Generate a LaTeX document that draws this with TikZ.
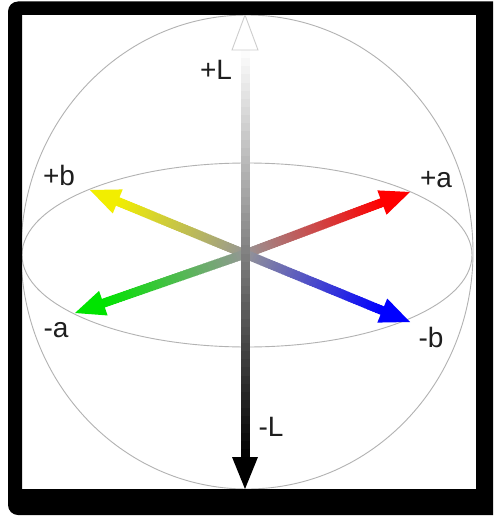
\documentclass[tikz,border=0pt]{standalone}
\usepackage{fontspec}
\setsansfont{Liberation Sans}
\usetikzlibrary{calc}
\definecolor{labFrame}{RGB}{0,0,0}
\definecolor{labSphere}{RGB}{178,178,178}
\definecolor{labMid}{RGB}{150,150,150}
\definecolor{labHollow}{RGB}{205,205,205}
\definecolor{labRed}{RGB}{255,0,0}
\definecolor{labGreen}{RGB}{0,228,0}
\definecolor{labYellow}{RGB}{242,238,0}
\definecolor{labBlue}{RGB}{0,0,255}
\definecolor{labText}{RGB}{30,30,30}

\begin{document}
\begin{tikzpicture}[x=1pt,y=-1pt,
    pole/.style={font=\fontsize{28}{30}\selectfont\sffamily,
      text=labText, anchor=base, inner sep=0pt},
    outline/.style={draw=labSphere, line width=.9pt},
    shaft/.style={line width=9pt, line cap=butt}]
  \useasboundingbox (0,0) rectangle (493,516);
  \clip (0,0) rectangle (493,516);
  \fill[white] (0,0) rectangle (493,516);

  \draw[outline] (247,252) ellipse [x radius=226, y radius=237];
  \draw[outline] (247,255) ellipse [x radius=225, y radius=92];

  \coordinate (O) at (245,254);
  \coordinate (ap) at (410,192);
  \coordinate (am) at (75,313);
  \coordinate (bp) at (90,190);
  \coordinate (bm) at (410,322);
  \coordinate (Lp) at (245,15);
  \coordinate (Lm) at (245,489);

  % a and b axes, grey at the centre
  \foreach \tip/\c in {bp/labYellow,am/labGreen,ap/labRed,bm/labBlue}{
    \coordinate (\tip-h) at ($(\tip)!30pt!(O)$);
    \foreach \i [evaluate=\i as \p using int(2*\i+1)] in {0,...,49}{
      \draw[shaft, draw=\c!\p!labMid]
        ($(O)!{\i/50}!(\tip-h)$) -- ($(O)!{(\i+1.4)/50}!(\tip-h)$);}
    \fill[\c] (\tip) -- ($(\tip-h)!13pt!90:(\tip)$)
      -- ($(\tip-h)!13pt!-90:(\tip)$) -- cycle;}

  % L axis, white at the top, black at the bottom
  \coordinate (Lm-h) at ($(Lm)!32pt!(Lp)$);
  \coordinate (Lp-h) at ($(Lp)!35pt!(Lm)$);
  \foreach \i [evaluate=\i as \p using int(2*\i+1)] in {0,...,49}{
    \draw[shaft, draw=black!\p!white]
      ($(Lp-h)!{\i/50}!(Lm-h)$) -- ($(Lp-h)!{(\i+1.4)/50}!(Lm-h)$);}
  \fill[black] (Lm) -- ($(Lm-h)!13pt!90:(Lm)$)
    -- ($(Lm-h)!13pt!-90:(Lm)$) -- cycle;
  \draw[labHollow, line width=.9pt, fill=white] (Lp)
    -- ($(Lp-h)!13pt!90:(Lp)$) -- ($(Lp-h)!13pt!-90:(Lp)$) -- cycle;

  \node[pole] (Lplus) at (216,80) {+L};
  \node[pole] (Lminus) at (271,436) {-L};
  \node[pole] (bplus) at (59,185) {+b};
  \node[pole] (aplus) at (436,187) {+a};
  \node[pole] (aminus) at (56,337) {-a};
  \node[pole] (bminus) at (431,347) {-b};

  \fill[labFrame, even odd rule]
    [rounded corners=10pt] (8,1.5) rectangle (510,515)
    [sharp corners] (22,15) rectangle (476,489);
\end{tikzpicture}
\end{document}
